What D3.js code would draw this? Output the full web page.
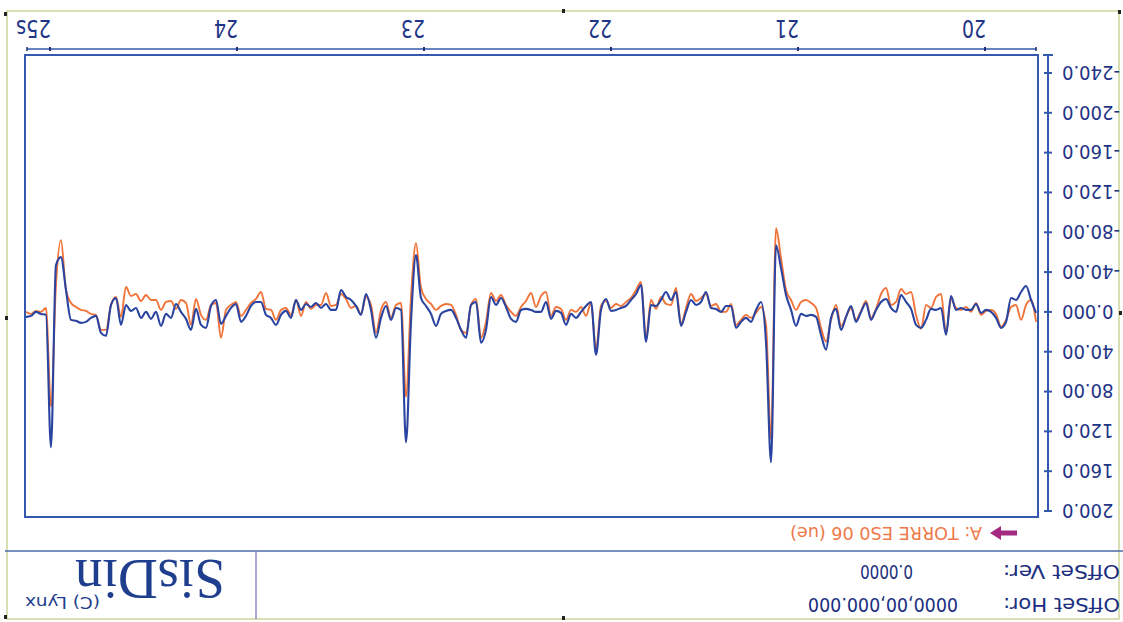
<!DOCTYPE html>
<html>
<head>
<meta charset="utf-8">
<script src="https://cdn.jsdelivr.net/npm/d3@7"></script>
<style>
  body { margin: 0; background: #fff; }
  svg { display: block; }
  .ax { font-family: "DejaVu Sans Condensed", "Liberation Sans Narrow", "DejaVu Sans", sans-serif; font-stretch: condensed; }
</style>
</head>
<body>
<div id="chart"></div>
<script>
// sampled strain record, two channels (ue)
const sampleStart = 19.727; // s
const sampleStep = 0.02674; // s

const torreA = [ // orange
  10,-12,-7,8,-7,-5,8,15,2,-2,
  -1,3,-9,0,-5,-2,-4,-13,21,-18,
  -15,-4,-7,17,3,-20,-18,-23,-10,-7,
  -24,-18,-3,6,-11,-1,8,-4,5,14,
  -7,8,30,16,-4,-9,-12,-10,-2,-12,
  -22,-54,-84,128,13,-5,1,6,3,8,
  13,-8,0,0,-8,-6,-18,-14,-11,-18,
  -4,12,-24,-7,-8,-15,-3,-12,26,-30,
  -22,-14,-10,-6,-8,-4,-11,-6,38,-9,
  4,-5,0,-2,8,-3,-5,4,-20,-16,
  -5,-19,-11,-5,4,0,-7,-17,-11,-19,
  10,26,-13,-7,21,18,3,-7,-8,-6,
  -2,-8,-13,-24,-69,-15,85,-9,-7,6,
  -10,-2,21,-7,-15,2,-6,-4,-13,-18,
  -7,-6,-19,-7,-7,-3,-10,4,-12,3,
  -4,-2,8,-2,-3,-20,-13,-9,-2,4,
  -10,-7,-2,26,-9,-7,8,3,-13,13,
  -9,-12,-3,-11,-10,-2,-12,-12,-17,-11,
  -18,-16,-25,5,-15,-7,18,18,3,2,
  -1,-2,-5,-9,-22,-72,-27,95,-4,0,
  -1,2,0
];

const torreB = [ // blue
  1,-12,-26,-20,-12,-14,10,16,6,0,
  -2,1,-8,-2,-2,-4,-2,-16,23,-4,
  -2,-3,8,16,13,-3,-10,-17,0,-4,
  -13,-10,-2,8,-9,0,10,-6,5,18,
  -3,6,38,23,5,3,4,2,14,-2,
  -17,-44,-67,151,31,-10,-2,10,6,10,
  16,-6,-6,0,-3,-4,-20,-10,-7,-12,
  0,14,-20,-12,-20,-12,-6,-7,30,-27,
  -18,-12,-6,-4,-2,-1,-13,-2,43,-10,
  -6,0,6,2,13,1,-1,7,-10,0,
  0,-2,-3,-2,10,7,-5,-14,-7,-15,
  18,31,-10,-7,26,18,6,-2,-1,2,
  14,2,-6,-14,-57,10,131,-2,-4,8,
  -6,6,26,-2,-18,3,-6,-12,-15,-22,
  -2,-2,-8,-4,-9,-5,-8,-2,-12,6,
  -1,3,13,6,3,-10,-10,-6,4,10,
  -8,-4,4,12,-12,-6,16,13,-3,18,
  7,0,-8,6,2,14,0,7,0,6,
  -4,-1,-7,13,-14,-7,24,21,4,6,
  10,11,9,8,-22,-55,-47,136,3,2,
  0,4,5
];

const xTicks = [20, 21, 22, 23, 24, 25];
const xTickLabels = ["20", "21", "22", "23", "24", "25s"];
const yTicks = [-240, -200, -160, -120, -80, -40, 0, 40, 80, 120, 160, 200];

const legendText = "A: TORRE ES0 06 (ue)";
const offsetHor = "0000,00,000.000";
const offsetVer = "0.0000";

const W = 1123, H = 622;
const svg = d3.select("#chart").append("svg").attr("width", W).attr("height", H);

// the sheet is photographed upside down
const g = svg.append("g").attr("transform", `rotate(180 ${W / 2} ${H / 2})`);

const plot = { left: 85, right: 1098, top: 105, bottom: 567 };
const x = d3.scaleLinear().domain([20, 25]).range([138, 1073]);
const y = d3.scaleLinear().domain([-240, 200]).range([549, 111]);

const axisBlue = "#3358ad";
const textBlue = "#1f3586";

// outer sheet border and footer
g.append("rect").attr("x", 4).attr("y", 3).attr("width", 1112).attr("height", 608)
  .attr("fill", "none").attr("stroke", "#cdd39a").attr("stroke-width", 1.5);
g.append("line").attr("x1", 0).attr("x2", 1118).attr("y1", 71).attr("y2", 71)
  .attr("stroke", "#4d6aa8").attr("stroke-width", 1.5);
g.append("line").attr("x1", 867).attr("x2", 867).attr("y1", 3).attr("y2", 71)
  .attr("stroke", "#7a6fb8").attr("stroke-width", 1.2);

// plot frame
g.append("rect").attr("x", plot.left).attr("y", plot.top)
  .attr("width", plot.right - plot.left).attr("height", plot.bottom - plot.top)
  .attr("fill", "none").attr("stroke", axisBlue).attr("stroke-width", 2);

g.append("clipPath").attr("id", "clip").append("rect")
  .attr("x", plot.left + 1).attr("y", plot.top + 1)
  .attr("width", plot.right - plot.left - 2).attr("height", plot.bottom - plot.top - 2);

const line = d3.line()
  .x((d, i) => x(sampleStart + i * sampleStep))
  .y(d => y(d))
  .curve(d3.curveMonotoneX);

const traces = g.append("g").attr("clip-path", "url(#clip)");
traces.append("path").datum(torreA).attr("d", line)
  .attr("fill", "none").attr("stroke", "#f0743a").attr("stroke-width", 1.9)
  .attr("stroke-linejoin", "round");
traces.append("path").datum(torreB).attr("d", line)
  .attr("fill", "none").attr("stroke", "#2a44a0").attr("stroke-width", 2.1)
  .attr("stroke-linejoin", "round");

// time axis (below the frame)
const xa = g.append("g");
xa.append("line").attr("x1", 87).attr("x2", 1096).attr("y1", 573).attr("y2", 573)
  .attr("stroke", axisBlue).attr("stroke-width", 1.5);
xa.selectAll(".tk").data(xTicks).join("line")
  .attr("x1", d => x(d)).attr("x2", d => x(d)).attr("y1", 571).attr("y2", 575)
  .attr("stroke", "#1c2f78").attr("stroke-width", 2);
xa.selectAll(".end").data([87, 1096]).join("line")
  .attr("x1", d => d).attr("x2", d => d).attr("y1", 571).attr("y2", 575)
  .attr("stroke", "#1c2f78").attr("stroke-width", 1.5);
xa.selectAll("text").data(xTicks).join("text")
  .attr("class", "ax")
  .attr("x", d => x(d) - 1).attr("y", 602)
  .attr("font-size", 24).attr("fill", textBlue)
  .attr("textLength", (d, i) => xTickLabels[i].length * 11 + 2)
  .attr("lengthAdjust", "spacingAndGlyphs")
  .text((d, i) => xTickLabels[i]);

// value axis (left)
const fmt = v => d3.format(".4r")(v).replace("\u2212", "-");
const ya = g.append("g");
ya.append("line").attr("x1", 75).attr("x2", 75).attr("y1", y(200)).attr("y2", 567)
  .attr("stroke", axisBlue).attr("stroke-width", 2);
ya.append("line").attr("x1", 70).attr("x2", 80).attr("y1", 567).attr("y2", 567)
  .attr("stroke", axisBlue).attr("stroke-width", 2);
ya.selectAll(".tk").data(yTicks).join("line")
  .attr("x1", 71).attr("x2", 79).attr("y1", d => y(d)).attr("y2", d => y(d))
  .attr("stroke", axisBlue).attr("stroke-width", 2);
ya.selectAll("text").data(yTicks).join("text")
  .attr("class", "ax")
  .attr("x", 61).attr("y", d => y(d)).attr("dy", "0.36em")
  .attr("text-anchor", "end").attr("font-size", 20).attr("fill", textBlue)
  .text(fmt);

// legend
g.append("path").attr("d", "M106,86.5 L122,86.5 L122,82 L133,89 L122,96 L122,91.5 L106,91.5 Z")
  .attr("fill", "#a32a80");
g.append("text").attr("class", "ax")
  .attr("x", 141).attr("y", 95.5).attr("font-size", 18).attr("fill", "#ef7a4a")
  .attr("textLength", 192).attr("lengthAdjust", "spacingAndGlyphs")
  .text(legendText);

// offsets
const info = [
  { label: "OffSet Hor:", value: offsetHor, y: 24, vx: 165, vw: 150 },
  { label: "OffSet Ver:", value: offsetVer, y: 57, vx: 210, vw: 53 }
];
info.forEach(r => {
  g.append("text").attr("class", "ax").attr("x", 3).attr("y", r.y)
    .attr("font-size", 20).attr("fill", "#1c2f80")
    .attr("textLength", 117).attr("lengthAdjust", "spacingAndGlyphs").text(r.label);
  g.append("text").attr("class", "ax").attr("x", r.vx).attr("y", r.y)
    .attr("font-size", 20).attr("fill", "#1c2f80")
    .attr("textLength", r.vw).attr("lengthAdjust", "spacingAndGlyphs").text(r.value);
});

// logo
g.append("text").attr("x", 898).attr("y", 62)
  .attr("font-family", "'Liberation Serif', 'DejaVu Serif', serif")
  .attr("font-size", 57).attr("fill", "#1f3f8e")
  .attr("textLength", 150).attr("lengthAdjust", "spacingAndGlyphs")
  .text("SisDin");
g.append("text").attr("x", 1023).attr("y", 25)
  .attr("font-family", "'Liberation Sans Narrow', 'DejaVu Sans Condensed', sans-serif")
  .attr("font-size", 15).attr("fill", "#1f3f8e")
  .attr("textLength", 75).attr("lengthAdjust", "spacingAndGlyphs")
  .text("(C) Lynx");

// registration marks on the sheet
const marks = [[1116, 606], [2, 608], [558, 609], [1116, 3], [558, 2], [1, 307], [1115, 302]];
g.selectAll(".mk").data(marks).join("rect")
  .attr("x", d => d[0]).attr("y", d => d[1]).attr("width", 3).attr("height", 4)
  .attr("fill", "#222");
</script>
</body>
</html>
